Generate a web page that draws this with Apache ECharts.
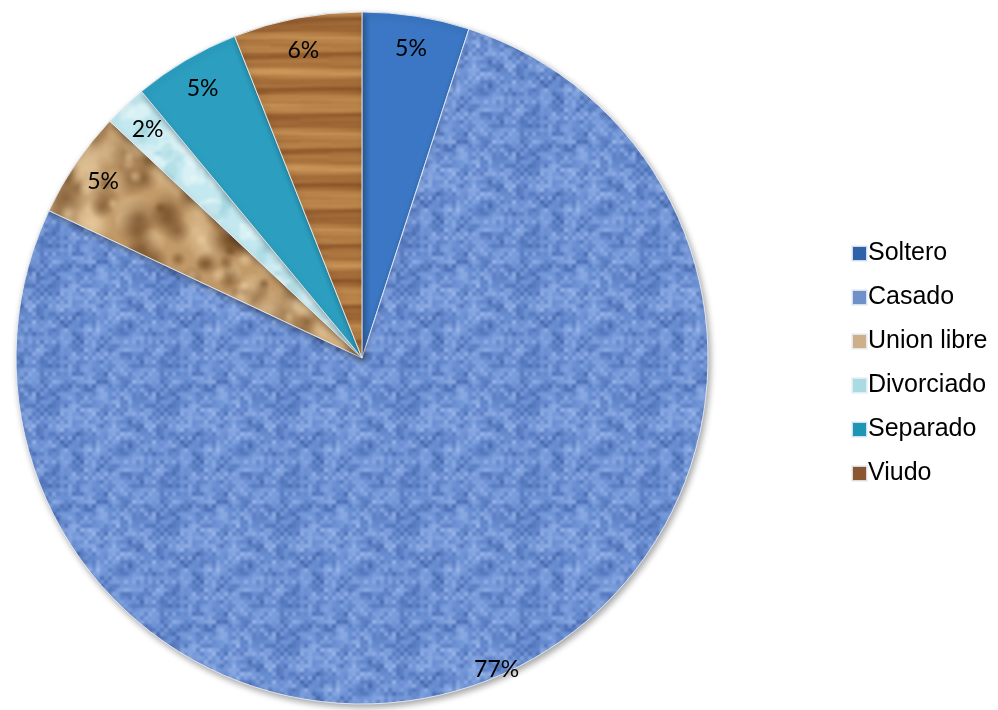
<!DOCTYPE html>
<html>
<head>
<meta charset="utf-8">
<script src="https://cdn.jsdelivr.net/npm/echarts@6/dist/echarts.min.js"></script>
<style>
  html, body { margin: 0; padding: 0; background: #fff; }
  #chart { width: 998px; height: 710px; }
</style>
</head>
<body>
<div id="chart"></div>
<script>
// Estado civil: shares in percent
const categories = ['Soltero', 'Casado', 'Union libre', 'Divorciado', 'Separado', 'Viudo'];
const percentValues = [5, 77, 5, 2, 5, 6];

// ---------- procedural fill textures ----------
function hash(i, j, s) {
  const h = Math.sin(i * 127.1 + j * 311.7 + s * 74.7) * 43758.5453;
  return h - Math.floor(h);
}
function mix(a, b, t) {
  return [0, 1, 2].map(k => Math.round(a[k] + (b[k] - a[k]) * t));
}
function rgb(c) { return 'rgb(' + c[0] + ',' + c[1] + ',' + c[2] + ')'; }
// blur a tile seamlessly: tile it 3x3, blur the whole, keep the centre
function blurred(src, px) {
  const W = src.width, H = src.height;
  const big = document.createElement('canvas');
  big.width = W * 3; big.height = H * 3;
  const bg = big.getContext('2d');
  for (let i = 0; i < 3; i++)
    for (let j = 0; j < 3; j++)
      bg.drawImage(src, i * W, j * H);
  const c = document.createElement('canvas');
  c.width = W; c.height = H;
  const g = c.getContext('2d');
  g.filter = 'blur(' + px + 'px)';
  g.drawImage(big, -W, -H);
  return c;
}

// woven burlap in blue
function burlapTexture() {
  const W = 120, H = 120, cell = 4;
  const c = document.createElement('canvas');
  c.width = W; c.height = H;
  const g = c.getContext('2d');
  const dark = [46, 78, 150], mid = [108, 145, 212], light = [178, 202, 246];
  for (let y = 0; y < H / cell; y++) {
    for (let x = 0; x < W / cell; x++) {
      const weave = ((x + y) % 2 === 0) ? 0.65 : 0.35;
      const n = hash(x, y, 1) * 0.55 + hash(Math.floor(x / 3), Math.floor(y / 2), 2) * 0.45;
      const t = Math.max(0, Math.min(1, weave * 0.45 + n * 0.6 - 0.02));
      const col = t < 0.5 ? mix(dark, mid, t * 2) : mix(mid, light, (t - 0.5) * 2);
      g.fillStyle = rgb(col);
      g.fillRect(x * cell, y * cell, cell, cell);
    }
  }
  return blurred(c, 0.9);
}

// crumpled paper in tan
function paperTexture() {
  const W = 160, H = 160;
  const c = document.createElement('canvas');
  c.width = W; c.height = H;
  const g = c.getContext('2d');
  g.fillStyle = '#c29a69';
  g.fillRect(0, 0, W, H);
  for (let k = 0; k < 110; k++) {
    const x = hash(k, 3, 4) * W, y = hash(k, 5, 6) * H;
    const r = 5 + hash(k, 7, 8) * 18;
    const darkBlob = hash(k, 9, 10) > 0.55;
    for (let ox = -W; ox <= W; ox += W) {
      for (let oy = -H; oy <= H; oy += H) {
        const gr = g.createRadialGradient(x + ox, y + oy, 0, x + ox, y + oy, r);
        if (darkBlob) {
          gr.addColorStop(0, 'rgba(105,66,30,0.6)');
          gr.addColorStop(1, 'rgba(105,66,30,0)');
        } else {
          gr.addColorStop(0, 'rgba(238,210,165,0.6)');
          gr.addColorStop(1, 'rgba(238,210,165,0)');
        }
        g.fillStyle = gr;
        g.beginPath();
        g.arc(x + ox, y + oy, r, 0, Math.PI * 2);
        g.fill();
      }
    }
  }
  return blurred(c, 0.8);
}

// pale icy cyan
function iceTexture() {
  const W = 120, H = 120;
  const c = document.createElement('canvas');
  c.width = W; c.height = H;
  const g = c.getContext('2d');
  g.fillStyle = '#c3e8ef';
  g.fillRect(0, 0, W, H);
  for (let k = 0; k < 60; k++) {
    const x = hash(k, 11, 12) * W, y = hash(k, 13, 14) * H;
    const r = 4 + hash(k, 15, 16) * 12;
    const lightBlob = hash(k, 17, 18) > 0.4;
    g.fillStyle = lightBlob ? 'rgba(236,250,252,0.5)' : 'rgba(150,205,218,0.35)';
    g.beginPath();
    g.ellipse(x, y, r, r * 0.6, hash(k, 19, 20) * 3, 0, Math.PI * 2);
    g.fill();
  }
  return blurred(c, 1.5);
}

// horizontal wood grain
function woodTexture() {
  const W = 240, H = 96;
  const c = document.createElement('canvas');
  c.width = W; c.height = H;
  const g = c.getContext('2d');
  const dark = [104, 56, 24], mid = [164, 108, 56], light = [208, 158, 94];
  for (let y = 0; y < H; y++) {
    const rowTone = (hash(y, 3, 22) - 0.5) * 0.25;
    for (let x = 0; x < W; x++) {
      const yy = y + 1.5 * Math.sin(x * 2 * Math.PI / 240 + y * 0.2);
      const band = 0.58 + 0.18 * Math.sin(yy * 2 * Math.PI / 32) + 0.12 * Math.sin(yy * 2 * Math.PI / 12 + 1.3);
      const n = (hash(Math.floor(x / 30), y, 21) - 0.5) * 0.1;
      const t = Math.max(0, Math.min(1, band + n + rowTone));
      const col = t < 0.5 ? mix(dark, mid, t * 2) : mix(mid, light, (t - 0.5) * 2);
      g.fillStyle = rgb(col);
      g.fillRect(x, y, 1, 1);
    }
  }
  return blurred(c, 0.8);
}

const fills = [
  '#3b77c4',
  { image: burlapTexture(), repeat: 'repeat' },
  { image: paperTexture(), repeat: 'repeat' },
  { image: iceTexture(), repeat: 'repeat' },
  '#2c9fc0',
  { image: woodTexture(), repeat: 'repeat' }
];
const legendColors = ['#2e63aa', '#6f90c8', '#cdb08a', '#a9dbe3', '#1f95b6', '#8b5632'];

// geometry of the pie, in pixels
const CX = 362, CY = 358, R = 346;
const labelRadius = [0.905, 0.98, 0.905, 0.905, 0.905, 0.905];

const total = percentValues.reduce((a, b) => a + b, 0);
function labelPoint(i) {
  let before = 0;
  for (let k = 0; k < i; k++) before += percentValues[k];
  const mid = (before + percentValues[i] / 2) / total * Math.PI * 2;
  const r = R * labelRadius[i];
  return { x: CX + r * Math.sin(mid), y: CY - r * Math.cos(mid) };
}

const chart = echarts.init(document.getElementById('chart'), null, { renderer: 'canvas' });
chart.setOption({
  animation: false,
  backgroundColor: '#ffffff',
  legend: {
    orient: 'vertical',
    left: 846,
    top: 236,
    icon: 'rect',
    itemWidth: 15,
    itemHeight: 15,
    itemGap: 19,
    textStyle: { fontFamily: 'Liberation Sans, Arial, sans-serif', fontSize: 25, color: '#000', padding: [0, 0, 0, -4] },
    data: categories.map((name, i) => ({ name, itemStyle: { color: legendColors[i] } }))
  },
  series: [{
    type: 'pie',
    center: [CX, CY],
    radius: R,
    startAngle: 90,
    clockwise: true,
    avoidLabelOverlap: false,
    data: categories.map((name, i) => ({
      name,
      value: percentValues[i],
      itemStyle: { color: fills[i] }
    })),
    itemStyle: {
      borderColor: 'rgba(235,240,248,0.85)',
      borderWidth: 1,
      shadowColor: 'rgba(0,0,0,0.35)',
      shadowBlur: 6,
      shadowOffsetX: 2,
      shadowOffsetY: 3
    },
    label: {
      show: true,
      position: 'inside',
      formatter: p => p.value + '%',
      fontFamily: 'Lato, "Open Sans", sans-serif',
      fontSize: 23,
      color: '#000'
    },
    labelLine: { show: false },
    labelLayout: p => labelPoint(p.dataIndex),
    emphasis: { disabled: true }
  }]
});
</script>
</body>
</html>
